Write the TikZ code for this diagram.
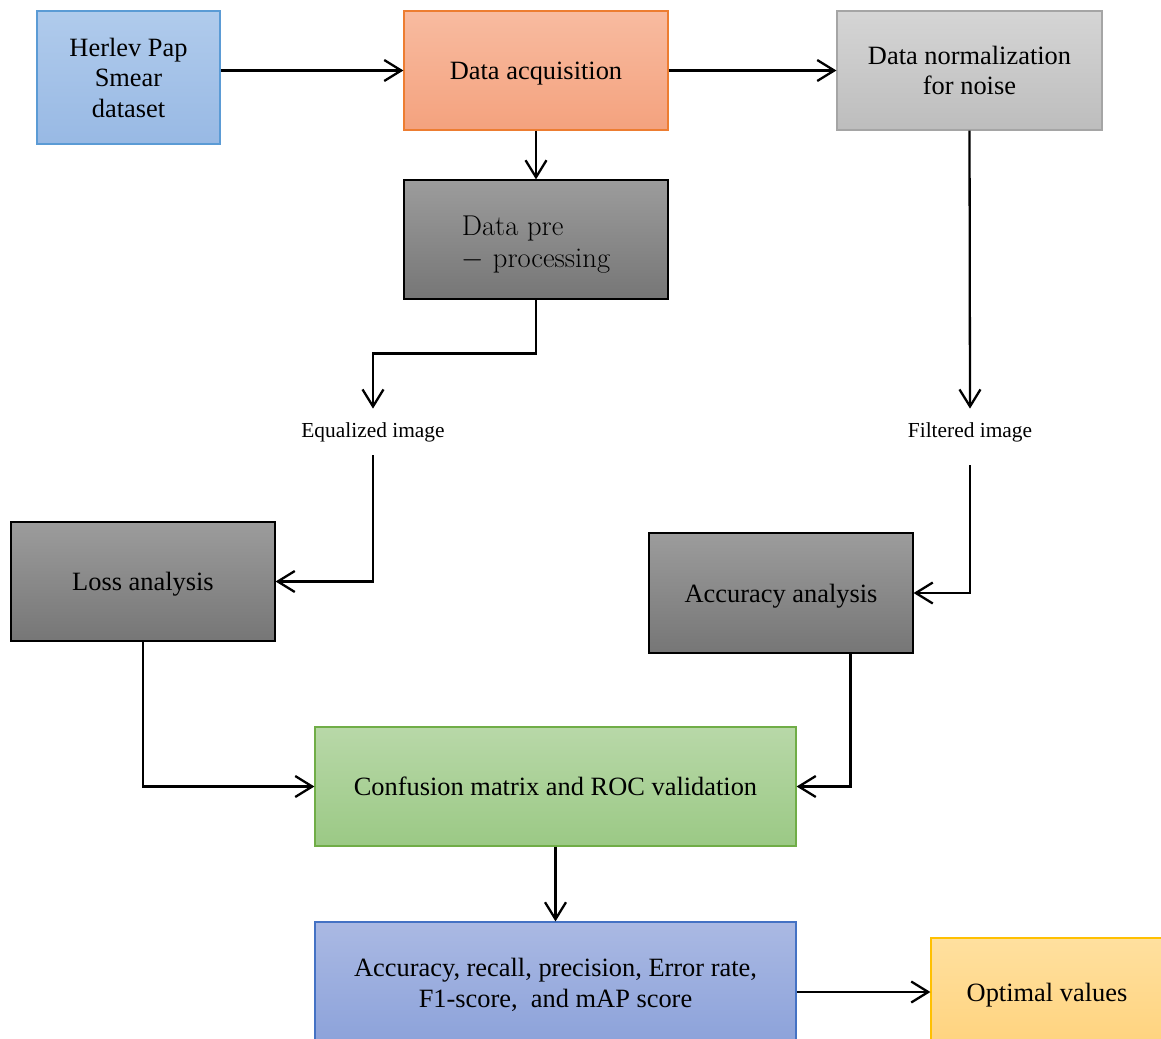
\documentclass[tikz,border=0pt]{standalone}
\usepackage{fontspec}
\setmainfont{Liberation Serif}
\newfontfamily\lmfont{Latin Modern Roman}
\usetikzlibrary{arrows.meta}

\definecolor{bluetop}{HTML}{B0CBEC}
\definecolor{bluebot}{HTML}{98B9E4}
\definecolor{blueline}{HTML}{5B9BD5}
\definecolor{orgtop}{HTML}{F8BBA0}
\definecolor{orgbot}{HTML}{F4A27E}
\definecolor{orgline}{HTML}{ED7D31}
\definecolor{ltgraytop}{HTML}{D5D5D5}
\definecolor{ltgraybot}{HTML}{BDBDBD}
\definecolor{ltgrayline}{HTML}{A5A5A5}
\definecolor{dkgraytop}{HTML}{9C9C9C}
\definecolor{dkgraybot}{HTML}{767676}
\definecolor{grntop}{HTML}{B8D8A8}
\definecolor{grnbot}{HTML}{9BC985}
\definecolor{grnline}{HTML}{70AD47}
\definecolor{purtop}{HTML}{AAB9E3}
\definecolor{purbot}{HTML}{8CA2DA}
\definecolor{purline}{HTML}{4472C4}
\definecolor{yeltop}{HTML}{FFE09F}
\definecolor{yelbot}{HTML}{FFD37E}
\definecolor{yelline}{HTML}{FFC000}

\tikzset{
    box/.style={draw, line width=0.6pt, align=center, inner sep=2pt, text depth=0pt,
        font=\fontsize{13.2}{15.2}\selectfont},
    bluebox/.style={box, draw=blueline, top color=bluetop, bottom color=bluebot},
    orgbox/.style={box, draw=orgline, top color=orgtop, bottom color=orgbot},
    ltgraybox/.style={box, draw=ltgrayline, top color=ltgraytop, bottom color=ltgraybot},
    dkgraybox/.style={box, draw=black, top color=dkgraytop, bottom color=dkgraybot},
    grnbox/.style={box, draw=grnline, top color=grntop, bottom color=grnbot},
    purbox/.style={box, draw=purline, top color=purtop, bottom color=purbot},
    yelbox/.style={box, draw=yelline, top color=yeltop, bottom color=yelbot},
    tag/.style={font=\fontsize{10.7}{12}\selectfont, minimum height=23pt, inner sep=0pt},
    flow/.style={line width=1.15pt, -{Straight Barb[length=8.5pt, width=10.5pt, line width=1.15pt]}}
}

\begin{document}
\begin{tikzpicture}[x=0.5pt, y=-0.5pt]
    \useasboundingbox (0,0) rectangle (1161,1038);

    % top row
    \node[bluebox, minimum width=91.5pt, minimum height=66.5pt] (herlev) at (128.5,77.5) {Herlev Pap\\Smear\\dataset};
    \node[orgbox, minimum width=132pt, minimum height=59.5pt] (acq) at (536,70.5) {Data acquisition};
    \node[ltgraybox, minimum width=132.5pt, minimum height=59.5pt] (norm) at (969.5,70.5) {Data normalization\\for noise};

    % pre-processing
    \node[dkgraybox, text depth=7pt, minimum width=132pt, minimum height=59.5pt] (pre) at (536,239.5)
        {\fontsize{14.3}{16}\selectfont\begin{tabular}{@{}l@{}}\lmfont Data pre\\\lmfont $-$ processing\end{tabular}};

    % intermediate outputs
    \node[tag] (eq) at (373,432) {Equalized image};
    \node[tag] (filt) at (970,432) {Filtered image};

    % analysis
    \node[dkgraybox, minimum width=132pt, minimum height=59.5pt] (loss) at (143,581.5) {Loss analysis};
    \node[dkgraybox, minimum width=132pt, minimum height=60pt] (accan) at (781,593) {Accuracy analysis};

    % validation and metrics
    \node[grnbox, minimum width=240.5pt, minimum height=59.5pt] (conf) at (555.5,786.5) {Confusion matrix and ROC validation};
    \node[purbox, minimum width=240.5pt, minimum height=61pt] (metrics) at (555.5,983) {Accuracy, recall, precision, Error rate,\\F1-score,\ \ and mAP score};
    \node[yelbox, minimum width=116pt, minimum height=54pt] (opt) at (1047,992) {Optimal values};

    % connectors
    \draw[flow] (herlev.east |- acq.west) -- (acq.west);
    \draw[flow] (acq.east) -- (norm.west);
    \draw[flow] (acq.south) -- (pre.north);
    \draw[flow] (pre.south) -- ++(0,54) -| (eq.north);
    \draw[flow] (eq.south) |- (loss.east);
    \draw[flow] (norm.south) -- (filt.north);
    \draw[flow] ([yshift=-5pt]filt.south) |- (accan.east);
    \draw[flow] (loss.south) |- (conf.west);
    \draw[flow] ([xshift=-31.5pt]accan.south east) |- (conf.east);
    \draw[flow] (conf.south) -- (metrics.north);
    \draw[flow] (metrics.east |- opt.west) -- (opt.west);
\end{tikzpicture}
\end{document}
